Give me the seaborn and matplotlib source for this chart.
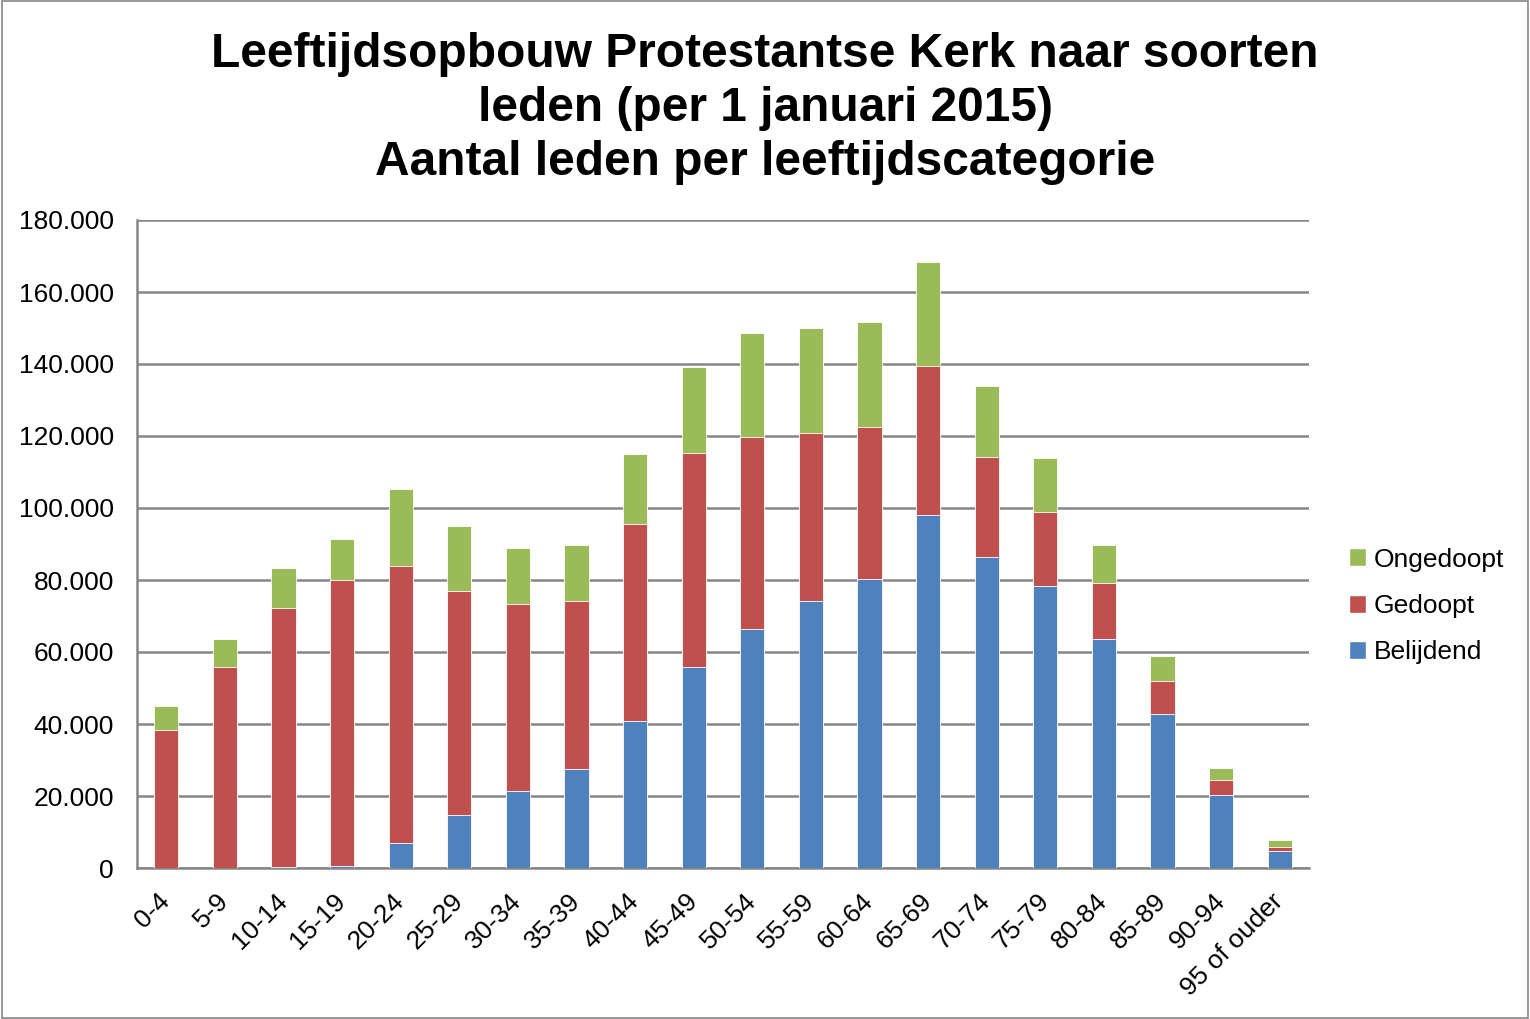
import matplotlib
matplotlib.use("Agg")
import matplotlib.pyplot as plt
import seaborn as sns
import numpy as np
import pandas as pd
from matplotlib.patches import Patch
from matplotlib.ticker import FuncFormatter, MultipleLocator

categories = ["0-4", "5-9", "10-14", "15-19", "20-24", "25-29", "30-34", "35-39",
              "40-44", "45-49", "50-54", "55-59", "60-64", "65-69", "70-74", "75-79",
              "80-84", "85-89", "90-94", "95 of ouder"]
belijdend = [0, 0, 300, 600, 6900, 14700, 21400, 27500, 40800, 55800, 66400, 74200,
             80300, 98100, 86400, 78300, 63600, 42800, 20300, 4700]
gedoopt = [38300, 55800, 71900, 79400, 77000, 62200, 51900, 46700, 54800, 59500, 53300,
           46600, 42200, 41300, 27800, 20600, 15600, 9100, 4100, 1100]
ongedoopt = [6700, 7800, 11100, 11400, 21400, 18100, 15600, 15500, 19400, 23900, 28900,
             29200, 29200, 28900, 19700, 15000, 10500, 7000, 3400, 2000]

c_blue = "#4F81BD"
c_red = "#C0504D"
c_green = "#9BBB59"

df = pd.DataFrame({"cat": categories, "B": belijdend, "G": gedoopt, "O": ongedoopt})
df["BG"] = df["B"] + df["G"]
df["T"] = df["BG"] + df["O"]

sns.set_style("white")
plt.rcParams["font.family"] = ["Liberation Sans", "DejaVu Sans"]
plt.rcParams["text.color"] = "black"
plt.rcParams["xtick.color"] = "black"
plt.rcParams["ytick.color"] = "black"

fig = plt.figure(figsize=(15.3, 10.19), dpi=100)
ax = fig.add_axes([137 / 1530, 1 - 868 / 1019, (1309 - 137) / 1530, (868 - 220) / 1019])

for col, colr in [("T", c_green), ("BG", c_red), ("B", c_blue)]:
    sns.barplot(data=df, x="cat", y=col, color=colr, width=0.41, ax=ax,
                edgecolor="white", linewidth=0.6, saturation=1, zorder=3)

ax.set_ylim(0, 180000)
ax.set_xlim(-0.5, len(categories) - 0.5)
ax.yaxis.set_major_locator(MultipleLocator(20000))
ax.yaxis.set_major_formatter(FuncFormatter(lambda v, p: f"{int(v):,}".replace(",", ".")))
ax.grid(axis="y", color="#868686", linewidth=1.8, zorder=0)
ax.set_axisbelow(True)
for s in ["top", "right"]:
    ax.spines[s].set_visible(False)
for s in ["left", "bottom"]:
    ax.spines[s].set_color("#868686")
    ax.spines[s].set_linewidth(1.8)
ax.set_xlabel("")
ax.set_ylabel("")

ax.set_xticks(np.arange(len(categories)))
ax.set_xticklabels(categories, rotation=45, ha="right", va="center",
                   rotation_mode="anchor", fontsize=19)
ax.tick_params(axis="x", length=0, pad=21, colors="black")
ax.set_xticks(np.arange(len(categories) + 1) - 0.5, minor=True)
ax.tick_params(axis="x", which="minor", length=8, width=1.8, color="#868686", direction="out")
ax.tick_params(axis="y", labelsize=19, length=8, width=1.8, color="#868686",
               labelcolor="black", direction="out", pad=8.5)

fig.text(0.5, 1 - 32 / 1019,
         "Leeftijdsopbouw Protestantse Kerk naar soorten\nleden (per 1 januari 2015)\nAantal leden per leeftijdscategorie",
         ha="center", va="top", fontsize=34.5, fontweight="bold", linespacing=1.26,
         color="black")

handles = [Patch(facecolor=c_green, label="Ongedoopt"),
           Patch(facecolor=c_red, label="Gedoopt"),
           Patch(facecolor=c_blue, label="Belijdend")]
fig.legend(handles=handles, loc="center left", bbox_to_anchor=(1325 / 1530, 1 - 606 / 1019),
           frameon=False, fontsize=19, handlelength=0.65, handleheight=0.65,
           handletextpad=0.3, labelspacing=0.85)

border = plt.Rectangle((0.001, 0.001), 0.998, 0.998, transform=fig.transFigure,
                       fill=False, edgecolor="#868686", linewidth=1.2)
fig.patches.append(border)

fig.savefig("out.png", dpi=100)
